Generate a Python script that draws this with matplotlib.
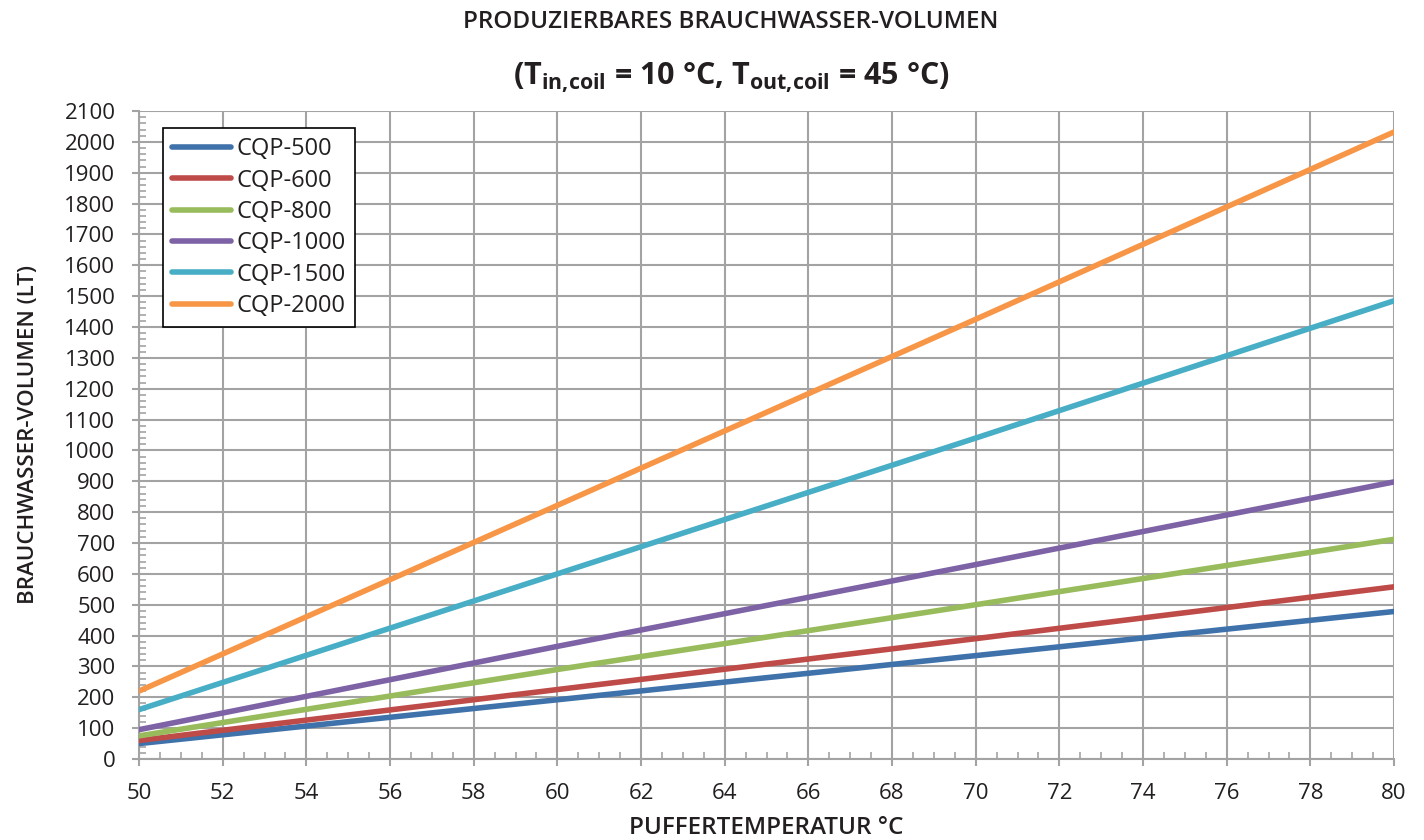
import numpy as np
import matplotlib as mpl
import matplotlib.pyplot as plt
from matplotlib.ticker import MultipleLocator

# ------------------------------ data -------------------------------------
TEMP = [50, 60, 70, 80]                      # Puffertemperatur [°C]
CQP_500  = [50, 192, 335, 478]
CQP_600  = [60, 225, 390, 558]
CQP_800  = [75, 290, 500, 712]
CQP_1000 = [95, 365, 630, 898]
CQP_1500 = [160, 600, 1040, 1485]
CQP_2000 = [220, 822, 1425, 2032]
LABELS = ['CQP-500', 'CQP-600', 'CQP-800', 'CQP-1000', 'CQP-1500', 'CQP-2000']
COLORS = ['#3F72AA', '#BE4B48', '#98BB5C', '#7D62A6', '#47AEC6', '#F79646']
# -------------------------------------------------------------------------

mpl.rcParams['font.family'] = ['Open Sans', 'DejaVu Sans']
mpl.rcParams['mathtext.default'] = 'regular'
GRID = '#A3A3A3'
TXT = '#231F20'

fig = plt.figure(figsize=(14.24, 8.4), dpi=100)
ax = fig.add_axes([139 / 1424, 1 - 759 / 840, (1394 - 139) / 1424, (759 - 111) / 840])

series = [CQP_500, CQP_600, CQP_800, CQP_1000, CQP_1500, CQP_2000]
for y, lab, col in zip(series, LABELS, COLORS):
    ax.plot(TEMP, y, color=col, lw=4, solid_capstyle='round', label=lab, zorder=3)

ax.set_xlim(50, 80)
ax.set_ylim(0, 2100)
ax.xaxis.set_major_locator(MultipleLocator(2))
ax.xaxis.set_minor_locator(MultipleLocator(0.5))
ax.yaxis.set_major_locator(MultipleLocator(100))
ax.yaxis.set_minor_locator(MultipleLocator(20))
ax.grid(True, which='major', color=GRID, lw=1.5)
ax.set_axisbelow(True)
for s in ['top', 'right']:
    ax.spines[s].set_visible(False)
for s in ['left', 'bottom']:
    ax.spines[s].set_color(GRID)
    ax.spines[s].set_linewidth(1.5)
ax.tick_params(which='major', direction='out', length=5, width=1.5, color=GRID,
               labelsize=16, labelcolor=TXT)
ax.tick_params(which='minor', direction='in', length=5, width=1.2, color=GRID)
ax.tick_params(axis='x', pad=12)
ax.tick_params(axis='y', pad=12)

ax.set_xlabel('PUFFERTEMPERATUR °C', fontsize=17.5, fontweight='semibold', color=TXT, labelpad=9)
ax.set_ylabel('BRAUCHWASSER-VOLUMEN (LT)', fontsize=16, fontweight='semibold', color=TXT, labelpad=18)

fig.text(731 / 1424, 1 - 22 / 840, 'PRODUZIERBARES BRAUCHWASSER-VOLUMEN', ha='center', va='center',
         fontsize=17.5, fontweight='semibold', color=TXT)
fig.text(731 / 1424, 1 - 78 / 840, r'(T$_{in{,}coil}$ = 10 °C, T$_{out{,}coil}$ = 45 °C)',
         ha='center', va='center', fontsize=22, fontweight='bold', color=TXT)

leg = ax.legend(loc='upper left', bbox_to_anchor=(0.019, 0.974), fontsize=17, frameon=True,
                fancybox=False, edgecolor='black', framealpha=1, handlelength=2.5,
                handletextpad=0.2, labelspacing=0.31, borderpad=0.4, borderaxespad=0)
leg.get_frame().set_linewidth(1.2)
for t in leg.get_texts():
    t.set_color(TXT)

fig.savefig('out.png', dpi=100, facecolor='white')
